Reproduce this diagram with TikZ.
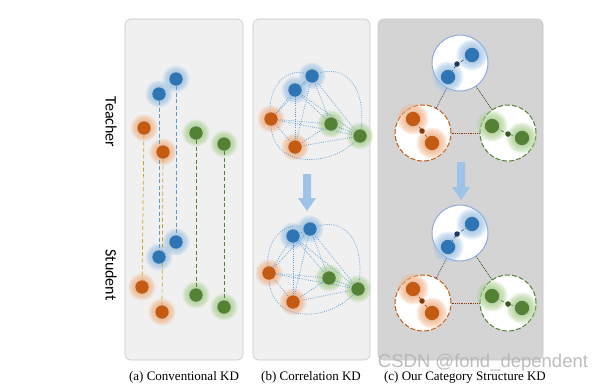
\documentclass[tikz,border=0pt]{standalone}
\usepackage{fontspec}
\setmainfont{Liberation Serif}
\newfontfamily\labfont{Carlito}
\newfontfamily\wmfont{Liberation Sans}
\definecolor{panelbg}{HTML}{F0F0F0}
\definecolor{panelbd}{HTML}{C8C8C8}
\definecolor{cpanelbg}{HTML}{D4D4D4}
\definecolor{kblue}{HTML}{2E75B6}
\definecolor{kbluegl}{HTML}{9DC3E6}
\definecolor{korange}{HTML}{C55A11}
\definecolor{korangegl}{HTML}{F4B183}
\definecolor{kgreen}{HTML}{548235}
\definecolor{kgreengl}{HTML}{A9D18E}
\definecolor{bluedash}{HTML}{5B9BD5}
\definecolor{golddash}{HTML}{C9A227}
\definecolor{greendash}{HTML}{548235}
\definecolor{arrowc}{HTML}{9DC3E6}
\definecolor{navy}{HTML}{1F3864}
\definecolor{dbrown}{HTML}{843C0C}
\definecolor{dgreen}{HTML}{385723}
\definecolor{cblue}{HTML}{8FAADC}
\pgfdeclarelayer{panellayer}
\pgfdeclarelayer{circlelayer}
\pgfdeclarelayer{glowlayer}
\pgfdeclarelayer{edgelayer}
\pgfsetlayers{panellayer,circlelayer,glowlayer,edgelayer,main}
\tikzset{
  panelst/.style={draw=panelbd, fill=panelbg, line width=0.6pt, rounded corners=6pt},
  kdotst/.style={circle, inner sep=0pt, minimum size=14pt, draw=white!70!gray, line width=0.3pt},
  bigdotst/.style={circle, inner sep=0pt, minimum size=15pt, draw=white!70!gray, line width=0.3pt},
  cdotst/.style={circle, inner sep=0pt, minimum size=5.5pt},
  corr/.style={draw=bluedash, line width=0.75pt, dash pattern=on 0.8pt off 1.4pt},
  vline/.style={line width=0.7pt, dash pattern=on 4pt off 2.5pt},
  catcirc/.style={circle, fill=white, minimum size=56pt, inner sep=0pt, line width=1pt, dash pattern=on 5pt off 2pt},
  catlink/.style={line width=0.8pt, densely dotted},
  inlink/.style={line width=0.5pt, densely dashed},
  caption/.style={font=\fontsize{13}{15}\selectfont, inner sep=0pt},
  sidelab/.style={font=\labfont\fontsize{16}{18}\selectfont, rotate=-90, inner sep=0pt},
  bigarrow/.style={fill=arrowc, draw=none}
}
\newcommand\glowat[4]{% x, y, color, max radius
  \begin{pgfonlayer}{glowlayer}
  \foreach \r in {1.0,0.92,0.84,0.76,0.68,0.6}{
    \fill[#3, opacity=0.2] (#1,#2) circle ({\r*#4 pt});
  }
  \end{pgfonlayer}}
\newcommand\kdot[4]{%
  \glowat{#2}{#3}{#4gl}{13.5}%
  \node[kdotst, fill=#4] (#1) at (#2,#3) {};}
\newcommand\bdot[4]{%
  \glowat{#2}{#3}{#4gl}{15.5}%
  \node[bigdotst, fill=#4] (#1) at (#2,#3) {};}
\newcommand\downarrowshape[3]{% x, ytop, ybottom
  \fill[bigarrow] (#1-4,#2) -- (#1+4,#2) -- (#1+4,#3-13) -- (#1+9,#3-13) -- (#1,#3) -- (#1-9,#3-13) -- (#1-4,#3-13) -- cycle;}
\begin{document}
\begin{tikzpicture}[x=1pt,y=-1pt]
\useasboundingbox (0,0) rectangle (604,389);
% panels
\begin{pgfonlayer}{panellayer}
\fill[white] (0,0) rectangle (604,389);
\draw[panelst] (125,19) rectangle (243,360);
\draw[panelst] (253,19) rectangle (370,360);
\draw[panelst, fill=cpanelbg] (378,19) rectangle (543,360);
\end{pgfonlayer}
% side labels
\node[sidelab] (teacher) at (111,122) {Teacher};
\node[sidelab] (student) at (111,275) {Student};
% ---------- (a)
\kdot{ta1}{176}{79}{kblue}
\kdot{ta2}{159}{94}{kblue}
\kdot{ta3}{144}{128}{korange}
\kdot{ta4}{163}{152}{korange}
\kdot{ta5}{196}{133}{kgreen}
\kdot{ta6}{224}{144}{kgreen}
\kdot{sa1}{176}{242}{kblue}
\kdot{sa2}{159}{257}{kblue}
\kdot{sa3}{142}{287}{korange}
\kdot{sa4}{162}{312}{korange}
\kdot{sa5}{196}{295}{kgreen}
\kdot{sa6}{224}{307}{kgreen}
\begin{pgfonlayer}{edgelayer}
\draw[vline, bluedash] (ta1) -- (sa1);
\draw[vline, bluedash] (ta2) -- (sa2);
\draw[vline, golddash] (ta3) -- (sa3);
\draw[vline, golddash] (ta4) -- (sa4);
\draw[vline, greendash] (ta5) -- (sa5);
\draw[vline, greendash] (ta6) -- (sa6);
\end{pgfonlayer}
% ---------- (b)
\kdot{tb1}{312}{76}{kblue}
\kdot{tb2}{295}{90}{kblue}
\kdot{tb3}{271}{119}{korange}
\kdot{tb4}{295}{147}{korange}
\kdot{tb5}{331}{124}{kgreen}
\kdot{tb6}{360}{136}{kgreen}
\kdot{sb1}{310}{229}{kblue}
\kdot{sb2}{293}{236}{kblue}
\kdot{sb3}{269}{273}{korange}
\kdot{sb4}{293}{302}{korange}
\kdot{sb5}{329}{278}{kgreen}
\kdot{sb6}{358}{289}{kgreen}
\begin{pgfonlayer}{edgelayer}
\foreach \p in {tb,sb}{
  \foreach \i/\j in {1/2,1/3,1/4,1/5,1/6,2/3,2/4,2/5,2/6,3/4,3/5,3/6,4/5,4/6,5/6}{
    \draw[corr] (\p\i.center) -- (\p\j.center);
  }
}
\draw[corr] (tb1.center) .. controls (350,58) and (368,95) .. (tb6.center);
\draw[corr] (tb1.center) .. controls (285,62) and (265,92) .. (tb3.center);
\draw[corr] (tb3.center) .. controls (268,172) and (335,168) .. (tb6.center);
\draw[corr] (sb1.center) .. controls (350,211) and (366,250) .. (sb6.center);
\draw[corr] (sb1.center) .. controls (283,216) and (262,245) .. (sb3.center);
\draw[corr] (sb3.center) .. controls (266,327) and (333,323) .. (sb6.center);
\end{pgfonlayer}
\downarrowshape{307}{174}{211}
% ---------- (c)
\foreach \pre/\dy in {c/0,d/170}{
  \begin{pgfonlayer}{circlelayer}
  \node[catcirc, draw=cblue, solid] (\pre t) at (460,63+\dy) {};
  \node[catcirc, draw=korange] (\pre l) at (423,133+\dy) {};
  \node[catcirc, draw=kgreen] (\pre r) at (508,133+\dy) {};
  \draw[catlink, navy!70!gray] (\pre t) -- (\pre l);
  \draw[catlink, dgreen] (\pre t) -- (\pre r);
  \draw[catlink, dbrown] (\pre l) -- (\pre r);
  \end{pgfonlayer}
}
\bdot{ct1}{472}{55}{kblue}
\bdot{ct2}{448}{77}{kblue}
\node[cdotst, fill=navy] (ctm) at (457,64) {};
\bdot{cl1}{413}{119}{korange}
\bdot{cl2}{432}{143}{korange}
\node[cdotst, fill=dbrown] (clm) at (422,131) {};
\bdot{cr1}{492}{126}{kgreen}
\bdot{cr2}{522}{138}{kgreen}
\node[cdotst, fill=dgreen] (crm) at (508,134) {};
\bdot{dt1}{472}{224}{kblue}
\bdot{dt2}{448}{247}{kblue}
\node[cdotst, fill=navy] (dtm) at (457,234) {};
\bdot{dl1}{413}{289}{korange}
\bdot{dl2}{432}{313}{korange}
\node[cdotst, fill=dbrown] (dlm) at (422,301) {};
\bdot{dr1}{492}{296}{kgreen}
\bdot{dr2}{522}{308}{kgreen}
\node[cdotst, fill=dgreen] (drm) at (508,304) {};
\begin{pgfonlayer}{edgelayer}
\foreach \pre in {c,d}{
  \draw[inlink, navy] (\pre t1.center) -- (\pre tm.center) -- (\pre t2.center);
  \draw[inlink, dbrown] (\pre l1.center) -- (\pre lm.center) -- (\pre l2.center);
  \draw[inlink, dgreen] (\pre r1.center) -- (\pre rm.center) -- (\pre r2.center);
}
\end{pgfonlayer}
\downarrowshape{461}{162}{200}
% captions
\node[caption] (capa) at (184,377) {(a) Conventional KD};
\node[caption] (capb) at (311,377) {(b) Correlation KD};
\node[caption] (capc) at (465,377) {(c) Our Category Structure KD};
\node[font=\wmfont\fontsize{18.5}{20}\selectfont, text=gray!60, opacity=0.85, inner sep=0pt] (wm) at (483,363) {CSDN @fond\_dependent};
\end{tikzpicture}
\end{document}
